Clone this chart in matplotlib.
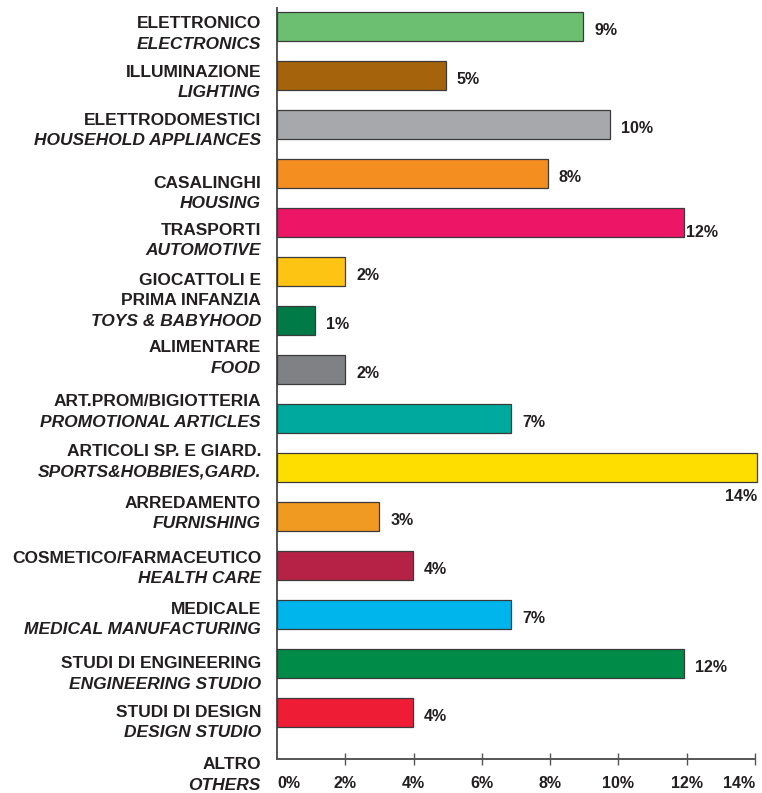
import numpy as np
import matplotlib
matplotlib.use('Agg')
import matplotlib.pyplot as plt

plt.rcParams['font.family'] = ['Liberation Sans', 'DejaVu Sans']

#Data (share of customers per sector, %)
values = [8.96, 4.94, 9.75, 7.93, 11.92, 1.99, 1.11, 1.99, 6.85, 14.06,
          2.99, 3.98, 6.85, 11.92, 3.98]
pct_labels = ['9%', '5%', '10%', '8%', '12%', '2%', '1%', '2%', '7%', '14%',
              '3%', '4%', '7%', '12%', '4%']
colors = ['#6CBF70', '#A5630B', '#A7A8AB', '#F58E21', '#ED1566', '#FEC413',
          '#007A47', '#808184', '#00A99D', '#FEDD00', '#F19A22', '#B62246',
          '#00B5EC', '#008B48', '#EE1C35']

#Category labels (italian bold, english bold italic)
names_it = ['ELETTRONICO', 'ILLUMINAZIONE', 'ELETTRODOMESTICI', 'CASALINGHI',
            'TRASPORTI', 'GIOCATTOLI E\nPRIMA INFANZIA', 'ALIMENTARE',
            'ART.PROM/BIGIOTTERIA', 'ARTICOLI SP. E GIARD.', 'ARREDAMENTO',
            'COSMETICO/FARMACEUTICO', 'MEDICALE', 'STUDI DI ENGINEERING',
            'STUDI DI DESIGN', 'ALTRO']
names_en = ['ELECTRONICS', 'LIGHTING', 'HOUSEHOLD APPLIANCES', 'HOUSING',
            'AUTOMOTIVE', 'TOYS & BABYHOOD', 'FOOD', 'PROMOTIONAL ARTICLES',
            'SPORTS&HOBBIES,GARD.', 'FURNISHING', 'HEALTH CARE',
            'MEDICAL MANUFACTURING', 'ENGINEERING STUDIO', 'DESIGN STUDIO',
            'OTHERS']
#layout: y (in bar units) of first line of each label, they sit a bit off the bars
label_y = [-0.09, 0.90, 1.88, 3.17, 4.13, 5.15, 6.52, 7.62, 8.64, 9.70,
           10.82, 11.86, 12.97, 13.96, 15.03]
xticks = [0, 2, 4, 6, 8, 10, 12, 14]

txt = '#231F20'
line_step = 0.42

fig = plt.figure(figsize=(7.62, 7.93), dpi=100)
ax = fig.add_axes([277/762, 1 - 759/793, (755 - 277)/762, (759 - 8)/793])

y = np.arange(len(values))
ax.barh(y, values, height=0.6, color=colors, edgecolor='#3a3a3a',
        linewidth=0.9, clip_on=False, zorder=3)

#value labels
for i, (v, s) in enumerate(zip(values, pct_labels)):
    if s == '14%':
        ax.annotate(s, (v, i + 0.3), xytext=(0, -5), textcoords='offset points',
                    ha='right', va='top', fontsize=11.5, fontweight='bold',
                    color=txt, annotation_clip=False)
    elif i == 4:
        ax.annotate(s, (v, i), xytext=(1.5, -10), textcoords='offset points',
                    ha='left', va='baseline', fontsize=11.5, fontweight='bold',
                    color=txt, annotation_clip=False)
    else:
        ax.annotate(s, (v, i), xytext=(8, -6), textcoords='offset points',
                    ha='left', va='baseline', fontsize=11.5, fontweight='bold',
                    color=txt, annotation_clip=False)

#category labels on the left
for it, en, ly in zip(names_it, names_en, label_y):
    lines = it.split('\n')
    k = 0
    for ln in lines:
        ax.annotate(ln, (0, ly + k*line_step + 0.12), xytext=(-11.5, 0),
                    textcoords='offset points', ha='right', va='baseline',
                    fontsize=12.5, fontweight='bold', color=txt,
                    annotation_clip=False)
        k += 1
    ax.annotate(en, (0, ly + k*line_step + 0.12), xytext=(-11.5, 0),
                textcoords='offset points', ha='right', va='baseline',
                fontsize=12.5, fontweight='bold', fontstyle='italic', color=txt,
                annotation_clip=False)

ax.set_ylim(14.945, -0.38)
ax.set_xlim(0, 14)
ax.set_yticks([])
ax.set_xticks(xticks)
ax.set_xticklabels([str(t) + '%' for t in xticks], fontsize=11.5,
                   fontweight='bold', color=txt)
ax.tick_params(axis='x', direction='inout', length=9, width=1, color='#555555',
               pad=8)
ticks = ax.xaxis.get_major_ticks()
ticks[0].tick1line.set_visible(False)
labs = ax.get_xticklabels()
labs[0].set_ha('left')
labs[-1].set_ha('right')

for side in ['top', 'right']:
    ax.spines[side].set_visible(False)
for side in ['left', 'bottom']:
    ax.spines[side].set_color('#555555')
    ax.spines[side].set_linewidth(1.4)

fig.savefig('out.png', dpi=100)
